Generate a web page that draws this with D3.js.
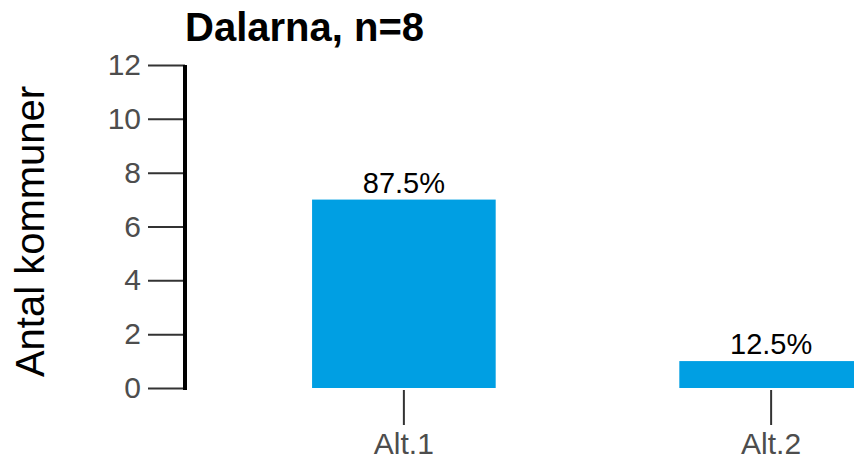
<!doctype html>
<html>
<head>
<meta charset="UTF-8">
<script src="https://d3js.org/d3.v7.min.js"></script>
<style>
  body { margin: 0; background: #fff; }
  text { font-family: "Liberation Sans", Arial, sans-serif; }
</style>
</head>
<body>
<svg id="chart" width="854" height="462"></svg>
<script>
  // data
  var categories = ["Alt.1", "Alt.2"];
  var counts = [7, 1];
  var labels = ["87.5%", "12.5%"];
  var yTicks = [0, 2, 4, 6, 8, 10, 12];
  var title = "Dalarna, n=8";
  var yTitle = "Antal kommuner";

  var svg = d3.select("#chart");
  var plotLeft = 185, plotTop = 65, plotBottom = 388;

  var y = d3.scaleLinear().domain([0, 12]).range([plotBottom, plotTop]);
  var x = d3.scaleBand().domain(categories)
    .range([plotLeft, 990])
    .paddingInner(0.5)
    .paddingOuter(0.346);

  // bars
  svg.selectAll("rect.bar").data(categories).enter().append("rect")
    .attr("class", "bar")
    .attr("x", function (d) { return x(d); })
    .attr("width", x.bandwidth())
    .attr("y", function (d, i) { return y(counts[i]); })
    .attr("height", function (d, i) { return y(0) - y(counts[i]); })
    .attr("fill", "#009FE3");

  // bar labels
  svg.selectAll("text.lab").data(categories).enter().append("text")
    .attr("class", "lab")
    .attr("x", function (d) { return x(d) + x.bandwidth() / 2; })
    .attr("y", function (d, i) { return y(counts[i]) - 7; })
    .attr("text-anchor", "middle")
    .attr("font-size", 29)
    .attr("fill", "#000")
    .text(function (d, i) { return labels[i]; });

  // y axis
  var yAxis = svg.append("g")
    .attr("transform", "translate(" + plotLeft + ",0)")
    .call(d3.axisLeft(y).tickValues(yTicks).tickSize(37).tickPadding(7));
  yAxis.select(".domain").remove();
  yAxis.selectAll(".tick line").attr("stroke", "#333").attr("stroke-width", 2);
  yAxis.selectAll(".tick text").attr("fill", "#4d4d4d").attr("font-size", 30)
    .attr("font-family", "Liberation Sans, Arial, sans-serif");
  svg.append("line")
    .attr("x1", plotLeft).attr("x2", plotLeft)
    .attr("y1", y(12)).attr("y2", y(0) + 2)
    .attr("stroke", "#000").attr("stroke-width", 4);

  // x axis
  var xAxis = svg.append("g")
    .attr("transform", "translate(0," + (plotBottom + 2) + ")")
    .call(d3.axisBottom(x).tickSize(35).tickPadding(8));
  xAxis.select(".domain").remove();
  xAxis.selectAll(".tick line").attr("stroke", "#333").attr("stroke-width", 2);
  xAxis.selectAll(".tick text").attr("fill", "#4d4d4d").attr("font-size", 30)
    .attr("font-family", "Liberation Sans, Arial, sans-serif");

  // titles
  svg.append("text")
    .attr("x", plotLeft)
    .attr("y", 41)
    .attr("font-size", 40)
    .attr("font-weight", "bold")
    .attr("fill", "#000")
    .text(title);

  svg.append("text")
    .attr("transform", "translate(44," + ((plotTop + plotBottom) / 2 + 5) + ") rotate(-90)")
    .attr("text-anchor", "middle")
    .attr("font-size", 40)
    .attr("fill", "#000")
    .text(yTitle);
</script>
</body>
</html>
